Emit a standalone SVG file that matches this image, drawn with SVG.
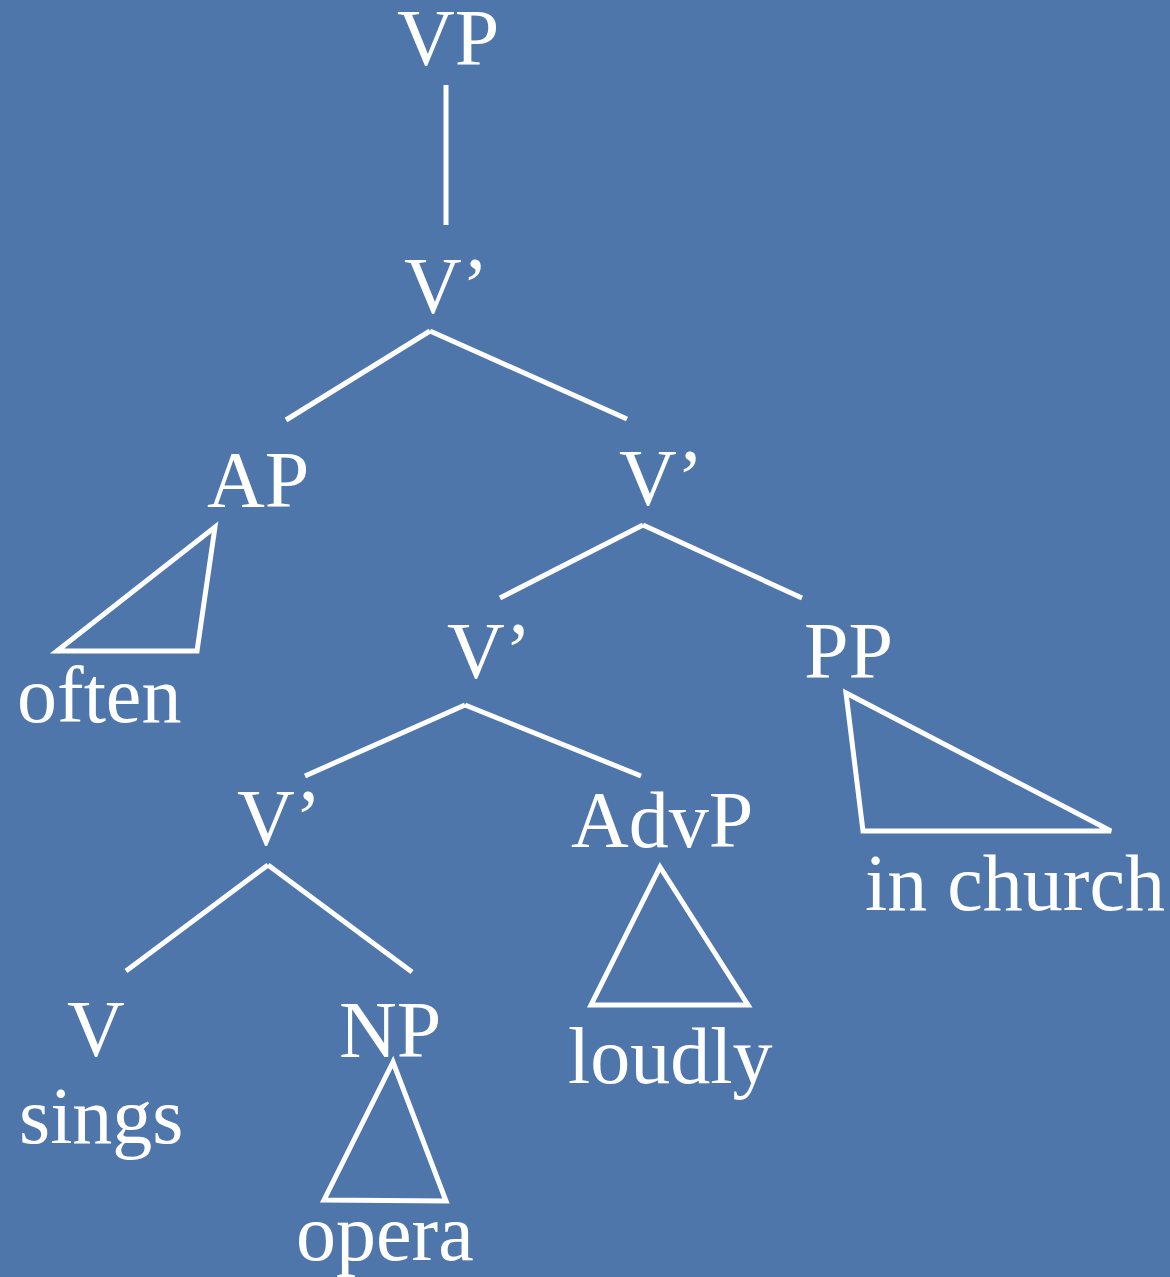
<svg xmlns="http://www.w3.org/2000/svg" width="1170" height="1277" viewBox="0 0 1170 1277">
<style>
text{font-family:"Liberation Serif","Times New Roman",serif;font-size:80px;fill:#fff}
.c line,.c polygon{stroke:#fff;stroke-width:5;fill:none;stroke-linejoin:miter}
</style>
<rect width="1170" height="1277" fill="#4E76AB"/>
<g class="c" id="connectors">
<line x1="446" y1="85" x2="446" y2="225"/>
<line x1="430" y1="331" x2="286" y2="420"/>
<line x1="430" y1="331" x2="627" y2="419"/>
<line x1="643" y1="525" x2="500" y2="598"/>
<line x1="643" y1="525" x2="802" y2="598"/>
<line x1="465" y1="705" x2="305" y2="776"/>
<line x1="465" y1="705" x2="641" y2="776"/>
<line x1="268" y1="865" x2="126" y2="971"/>
<line x1="268" y1="865" x2="412" y2="972"/>
<polygon points="215,527 197,651 57,651"/>
<polygon points="846,693 863,831 1111,831"/>
<polygon points="660,867 591,1005 748,1005"/>
<polygon points="393,1062 324,1200 446,1201"/>
</g>
<g id="VP"><text x="397" y="65">VP</text></g>
<g id="V1"><text x="404" y="313">V’</text></g>
<g id="AP"><text x="207" y="507">AP</text></g>
<g id="V2"><text x="619" y="505">V’</text></g>
<g id="often"><text x="17" y="722">often</text></g>
<g id="V3"><text x="447" y="678">V’</text></g>
<g id="PP"><text x="804" y="678">PP</text></g>
<g id="inchurch"><text x="865" y="910">in church</text></g>
<g id="V4"><text x="237" y="845">V’</text></g>
<g id="AdvP"><text x="571" y="847">AdvP</text></g>
<g id="loudly"><text x="568" y="1083">loudly</text></g>
<g id="V"><text x="67" y="1056">V</text></g>
<g id="NP"><text x="339" y="1057">NP</text></g>
<g id="sings"><text x="19" y="1143">sings</text></g>
<g id="opera"><text x="296" y="1260">opera</text></g>
</svg>
